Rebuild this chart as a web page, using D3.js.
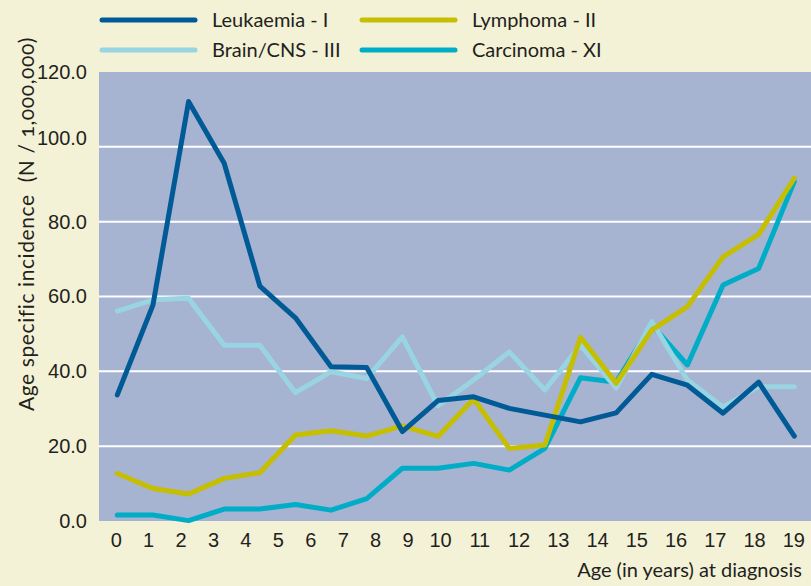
<!DOCTYPE html>
<html>
<head>
<meta charset="utf-8">
<script src="https://cdn.jsdelivr.net/npm/d3@7"></script>
<style>
  body { margin: 0; background: #f3f2d6; }
  svg { display: block; font-family: Lato, "Open Sans", sans-serif; }
  .axis text { fill: #231f20; font-size: 20px; }
</style>
</head>
<body>
<div id="chart"></div>
<script>
// ages on the x axis
const ages = d3.range(0, 20);

// age specific incidence per 1,000,000
const leukaemia = [33.7, 57.7, 112.1, 95.6, 62.8, 54.3, 41.2, 41.0, 23.9, 32.2,
                   33.2, 30.1, 28.3, 26.5, 28.9, 39.2, 36.3, 28.8, 37.1, 22.7];
const lymphoma  = [12.7, 8.7, 7.2, 11.4, 12.9, 23.0, 24.1, 22.7, 25.4, 22.6,
                   32.6, 19.4, 20.3, 49.1, 36.8, 51.0, 57.3, 70.6, 76.6, 91.6];
const brainCns  = [56.1, 59.1, 59.5, 47.0, 47.0, 34.3, 39.9, 38.1, 49.2, 30.8,
                   37.7, 45.2, 35.0, 47.0, 35.5, 53.3, 37.7, 30.5, 35.9, 35.9];
const carcinoma = [1.6, 1.6, 0.1, 3.2, 3.2, 4.4, 2.9, 6.0, 14.1, 14.1,
                   15.4, 13.6, 19.4, 38.3, 37.1, 52.4, 41.7, 63.1, 67.5, 90.7];

const seriesNames = ["Leukaemia - I", "Lymphoma - II", "Brain/CNS - III", "Carcinoma - XI"];
const seriesColors = ["#005a96", "#c6be00", "#98d4e2", "#00adc7"];
const yTicks = [0, 20, 40, 60, 80, 100, 120];

const width = 811, height = 586;
const plot = { left: 99, right: 811, top: 72, bottom: 521 };

const svg = d3.select("#chart").append("svg")
  .attr("width", width)
  .attr("height", height);

svg.append("rect")
  .attr("width", width).attr("height", height)
  .attr("fill", "#f3f2d6");

const x = d3.scaleLinear().domain([0, 19]).range([117.3, 794.3]);
// the printed tick labels are not evenly spread in the original
const xLabel = d3.scaleLinear().domain([0, 10, 19]).range([115.7, 440, 793.3]);
const y = d3.scaleLinear().domain([0, 120]).range([plot.bottom, plot.top]);

svg.append("rect")
  .attr("x", plot.left).attr("y", plot.top)
  .attr("width", plot.right - plot.left)
  .attr("height", plot.bottom - plot.top)
  .attr("fill", "#a6b3d1");

// white grid lines
svg.append("g")
  .selectAll("line")
  .data(yTicks.filter(d => d > 0 && d < 120))
  .join("line")
  .attr("x1", plot.left).attr("x2", plot.right)
  .attr("y1", d => y(d)).attr("y2", d => y(d))
  .attr("stroke", "#ffffff")
  .attr("stroke-width", 2);

// axes
const yAxis = svg.append("g")
  .attr("class", "axis")
  .attr("transform", `translate(${plot.left},0)`)
  .call(d3.axisLeft(y).tickValues(yTicks).tickFormat(d3.format(".1f")).tickSize(0).tickPadding(12));
yAxis.select(".domain").remove();
yAxis.selectAll(".tick").filter(d => d === 100).select("text").attr("dy", "-0.1em");

const xAxis = svg.append("g")
  .attr("class", "axis")
  .attr("transform", `translate(0,${plot.bottom})`)
  .call(d3.axisBottom(xLabel).tickValues(ages).tickFormat(d3.format("d")).tickSize(0).tickPadding(12));
xAxis.select(".domain").remove();

svg.append("text")
  .attr("x", 802).attr("y", 577)
  .attr("text-anchor", "end")
  .attr("font-size", 20)
  .attr("fill", "#231f20")
  .text("Age (in years) at diagnosis");

svg.append("text")
  .attr("transform", "translate(34,224) rotate(-90)")
  .attr("text-anchor", "middle")
  .attr("font-size", 21)
  .attr("letter-spacing", 0.6)
  .attr("fill", "#231f20")
  .style("white-space", "pre")
  .style("font-variant-numeric", "oldstyle-nums")
  .text("Age specific incidence  (N / 1,000,000)");

// lines, drawn bottom to top
const series = [
  { name: seriesNames[3], color: seriesColors[3], values: carcinoma },
  { name: seriesNames[2], color: seriesColors[2], values: brainCns },
  { name: seriesNames[1], color: seriesColors[1], values: lymphoma },
  { name: seriesNames[0], color: seriesColors[0], values: leukaemia }
];

const line = d3.line()
  .x((d, i) => x(ages[i]))
  .y(d => y(d));

svg.append("g")
  .selectAll("path")
  .data(series)
  .join("path")
  .attr("d", d => line(d.values))
  .attr("fill", "none")
  .attr("stroke", d => d.color)
  .attr("stroke-width", 5)
  .attr("stroke-linejoin", "round")
  .attr("stroke-linecap", "round");

// legend, two columns by two rows
const legendCols = [102, 362];
const legendRows = [20, 50];
const legend = svg.append("g")
  .selectAll("g")
  .data(seriesNames)
  .join("g")
  .attr("transform", (d, i) => `translate(${legendCols[i % 2]},${legendRows[Math.floor(i / 2)]})`);

legend.append("line")
  .attr("x1", 0).attr("x2", 93)
  .attr("stroke", (d, i) => seriesColors[i])
  .attr("stroke-width", 5)
  .attr("stroke-linecap", "round");

legend.append("text")
  .attr("x", 110)
  .attr("dy", "0.34em")
  .attr("font-size", 20)
  .attr("fill", "#231f20")
  .text(d => d);
</script>
</body>
</html>
